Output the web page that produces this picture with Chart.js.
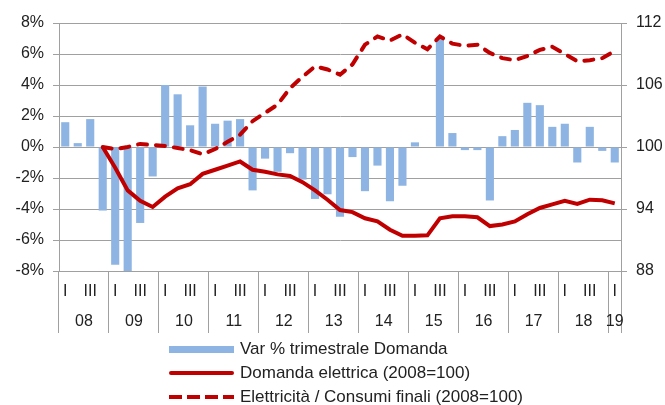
<!DOCTYPE html>
<html>
<head>
<meta charset="utf-8">
<script src="https://cdn.jsdelivr.net/npm/chart.js@4.4.0/dist/chart.umd.min.js"></script>
<style>
  html, body { margin: 0; padding: 0; background: #fff; }
  #wrap { position: relative; width: 665px; height: 405px; }
  #legend {
    position: absolute; left: 169px; top: 337px;
    font-family: "Liberation Sans", Arial, sans-serif; font-size: 17px; color: #222;
  }
  .row { display: flex; align-items: center; height: 24px; }
  .sw { width: 65px; margin-right: 6px; }
  .sw.bar { height: 7px; background: #8db4e2; }
  .sw.solid { height: 4px; background: #c00000; border-radius: 2px; }
  .sw.dash { height: 4px; background: repeating-linear-gradient(90deg, #c00000 0 13px, transparent 13px 18px); }
</style>
</head>
<body>
<div id="wrap">
  <canvas id="chart" width="665" height="405"></canvas>
  <div id="legend">
    <div class="row"><div class="sw bar"></div><span>Var % trimestrale Domanda</span></div>
    <div class="row"><div class="sw solid"></div><span>Domanda elettrica (2008=100)</span></div>
    <div class="row"><div class="sw dash"></div><span>Elettricità / Consumi finali (2008=100)</span></div>
  </div>
</div>
<script>
// trimestri 2008 Q1 - 2019 Q1
const quarters = [
  'I','II','III','IV', 'I','II','III','IV', 'I','II','III','IV', 'I','II','III','IV',
  'I','II','III','IV', 'I','II','III','IV', 'I','II','III','IV', 'I','II','III','IV',
  'I','II','III','IV', 'I','II','III','IV', 'I','II','III','IV', 'I'
];
const years = ['08','09','10','11','12','13','14','15','16','17','18','19'];

// Var % trimestrale Domanda
const varDomanda = [
  1.6, 0.25, 1.8, -4.1,
  -7.6, -8.1, -4.9, -1.9,
  4.0, 3.4, 1.4, 3.9,
  1.5, 1.7, 1.8, -2.8,
  -0.75, -1.6, -0.4, -2.1,
  -3.35, -3.05, -4.5, -0.65,
  -2.85, -1.2, -3.5, -2.5,
  0.3, 0, 7.0, 0.9,
  -0.2, -0.2, -3.45, 0.7,
  1.1, 2.85, 2.7, 1.3,
  1.5, -1.0, 1.3, -0.25,
  -1.0
];

// Domanda elettrica (2008=100)
const domandaIdx = [
  null, null, null, 100,
  98.0, 95.8, 94.8, 94.2,
  95.2, 96.0, 96.4, 97.4,
  97.8, 98.2, 98.6, 97.8,
  97.6, 97.35, 97.2, 96.6,
  95.8, 94.9, 93.9, 93.7,
  93.1, 92.8, 92.0, 91.4,
  91.4, 91.45, 93.1, 93.3,
  93.3, 93.2, 92.35, 92.5,
  92.8, 93.5, 94.1, 94.45,
  94.8, 94.5, 94.9, 94.85,
  94.55
];

// Elettricità / Consumi finali (2008=100)
const quotaIdx = [
  null, null, null, 100,
  99.8, 100.0, 100.3, 100.2,
  100.1, 99.9, 99.7, 99.3,
  99.8, 100.5, 101.2, 102.5,
  103.3, 104.1, 105.7, 106.8,
  107.8, 107.5, 107.0, 108.0,
  109.9, 110.7, 110.3, 110.9,
  110.1, 109.45, 110.7, 110.0,
  109.8, 109.9, 109.1, 108.6,
  108.4, 108.8, 109.4, 109.7,
  109.0, 108.3, 108.4, 108.6,
  109.3
];

const GRID = '#a0a0a0';
const TEXT = '#222';
const FONT = '"Liberation Sans", Arial, sans-serif';

// etichette I / III e anni sotto l'asse
const axisLabels = {
  id: 'axisLabels',
  afterDraw(chart) {
    const { ctx } = chart;
    const x = chart.scales.x;
    ctx.save();
    ctx.font = '16px ' + FONT;
    ctx.fillStyle = TEXT;
    ctx.textAlign = 'center';
    ctx.textBaseline = 'middle';
    quarters.forEach((q, i) => {
      if (q === 'I' || q === 'III') ctx.fillText(q, x.getPixelForValue(i), x.top + 21);
    });
    years.forEach((y, k) => {
      const first = k * 4;
      const last = Math.min(first + 3, quarters.length - 1);
      const cx = (x.getPixelForValue(first) + x.getPixelForValue(last)) / 2;
      ctx.fillText(y, cx, x.top + 51);
    });
    ctx.restore();
  }
};

new Chart(document.getElementById('chart'), {
  type: 'bar',
  data: {
    labels: quarters,
    datasets: [
      {
        type: 'line',
        label: 'Domanda elettrica (2008=100)',
        data: domandaIdx,
        yAxisID: 'y1',
        borderColor: '#c00000',
        borderWidth: 4,
        pointRadius: 0,
        tension: 0,
        order: 0
      },
      {
        type: 'line',
        label: 'Elettricità / Consumi finali (2008=100)',
        data: quotaIdx,
        yAxisID: 'y1',
        borderColor: '#c00000',
        borderWidth: 4,
        borderDash: [9, 9],
        borderCapStyle: 'round',
        pointRadius: 0,
        tension: 0,
        order: 1
      },
      {
        label: 'Var % trimestrale Domanda',
        data: varDomanda,
        yAxisID: 'y',
        backgroundColor: '#8db4e2',
        barPercentage: 0.65,
        categoryPercentage: 1,
        order: 2
      }
    ]
  },
  options: {
    responsive: false,
    animation: false,
    devicePixelRatio: 1,
    layout: { padding: { top: 23, bottom: 72, left: 0, right: 0 } },
    plugins: { legend: { display: false }, tooltip: { enabled: false } },
    scales: {
      x: {
        offset: true,
        ticks: { display: false },
        grid: {
          offset: true,
          drawOnChartArea: false,
          tickLength: 62,
          color: c => (c.index === undefined || c.index % 4 === 0) ? GRID : 'rgba(0,0,0,0)'
        },
        border: { color: GRID },
        afterFit(s) { s.height = 62; }
      },
      y: {
        position: 'left',
        min: -8, max: 8,
        ticks: {
          stepSize: 2, padding: 9, color: TEXT,
          font: { size: 16, family: FONT },
          callback: v => v + '%'
        },
        grid: { color: GRID, tickLength: 6 },
        border: { color: GRID },
        afterFit(s) { s.width = 59; }
      },
      y1: {
        position: 'right',
        min: 88, max: 112,
        ticks: { stepSize: 6, padding: 9, color: TEXT, font: { size: 16, family: FONT } },
        grid: { drawOnChartArea: false, color: GRID, tickLength: 6 },
        border: { color: GRID },
        afterFit(s) { s.width = 44; }
      }
    }
  },
  plugins: [axisLabels]
});
</script>
</body>
</html>
